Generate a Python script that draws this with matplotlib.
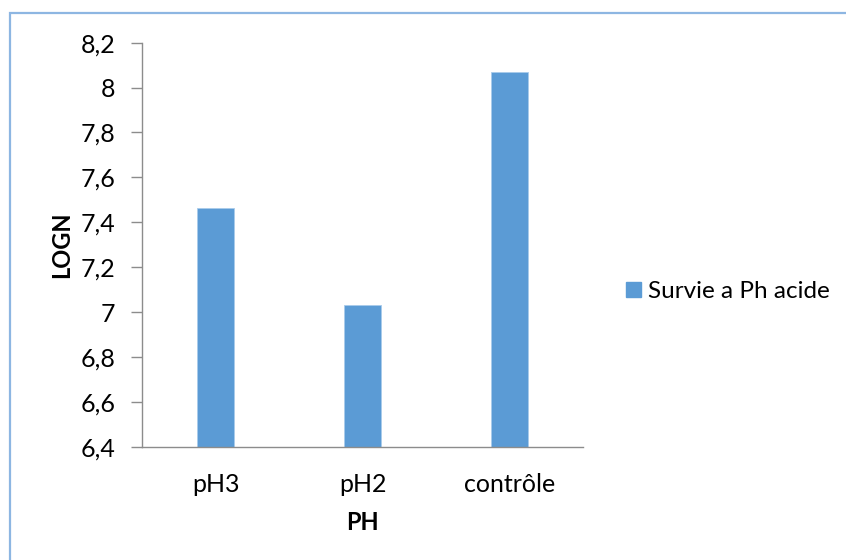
import matplotlib
matplotlib.use("Agg")
import matplotlib.pyplot as plt
from matplotlib.patches import Rectangle, Patch
from matplotlib.ticker import FuncFormatter

categories = ["pH3", "pH2", "contrôle"]
values = [7.465, 7.033, 8.071]
series_name = "Survie a Ph acide"
y_ticks = [6.4, 6.6, 6.8, 7.0, 7.2, 7.4, 7.6, 7.8, 8.0, 8.2]

plt.rcParams["font.family"] = ["Lato", "DejaVu Sans"]
FS = 18
BAR = "#5B9BD5"
AXIS = "#8C8C8C"

W, H = 846, 560
fig = plt.figure(figsize=(W / 100, H / 100), dpi=100)

# chart area frame
fig.patches.append(Rectangle((10 / W, -0.1), 2.0, (H - 13) / H + 0.1,
                             transform=fig.transFigure, fill=False,
                             edgecolor="#8DB6E2", linewidth=1.6))

L, R, B, T = 142, 583.3, 446.7, 42.7
ax = fig.add_axes([L / W, (H - B) / H, (R - L) / W, (B - T) / H])
x = range(len(categories))
ax.bar(x, values, width=0.25, bottom=0, color=BAR, edgecolor="#A9CBEB",
       linewidth=0.6, label=series_name)
ax.set_xlim(-0.5, len(categories) - 0.5)
ax.set_ylim(y_ticks[0], y_ticks[-1])
ax.set_yticks(y_ticks)
ax.yaxis.set_major_formatter(FuncFormatter(lambda v, p: f"{v:g}".replace(".", ",")))
ax.set_xticks(list(x))
ax.set_xticklabels(categories)

for s in ("top", "right"):
    ax.spines[s].set_visible(False)
for s in ("left", "bottom"):
    ax.spines[s].set_color(AXIS)
    ax.spines[s].set_linewidth(1.0)
ax.tick_params(axis="y", length=8, width=1.0, color=AXIS, pad=11, labelsize=FS,
               labelcolor="#000000")
ax.tick_params(axis="x", length=0, pad=19, labelsize=FS, labelcolor="#000000")

xl = ax.set_xlabel("PH", fontsize=FS - 1, fontweight="bold")
yl = ax.set_ylabel("LOGN", fontsize=FS - 1, fontweight="bold")
ax.xaxis.set_label_coords(0.5, (B - 523) / (B - T))
xl.set_va("center")
ax.yaxis.set_label_coords((62 - L) / (R - L), (B - 245) / (B - T))
yl.set_va("center")

fig.legend(handles=[Patch(facecolor=BAR, edgecolor=BAR, label=series_name)],
           loc="center left", bbox_to_anchor=(626 / W, 1 - 291.5 / H),
           frameon=False, fontsize=FS - 0.5, borderpad=0, borderaxespad=0,
           handlelength=0.6, handleheight=0.6, handletextpad=0.3)

fig.savefig("out.png", dpi=100, facecolor="white")
